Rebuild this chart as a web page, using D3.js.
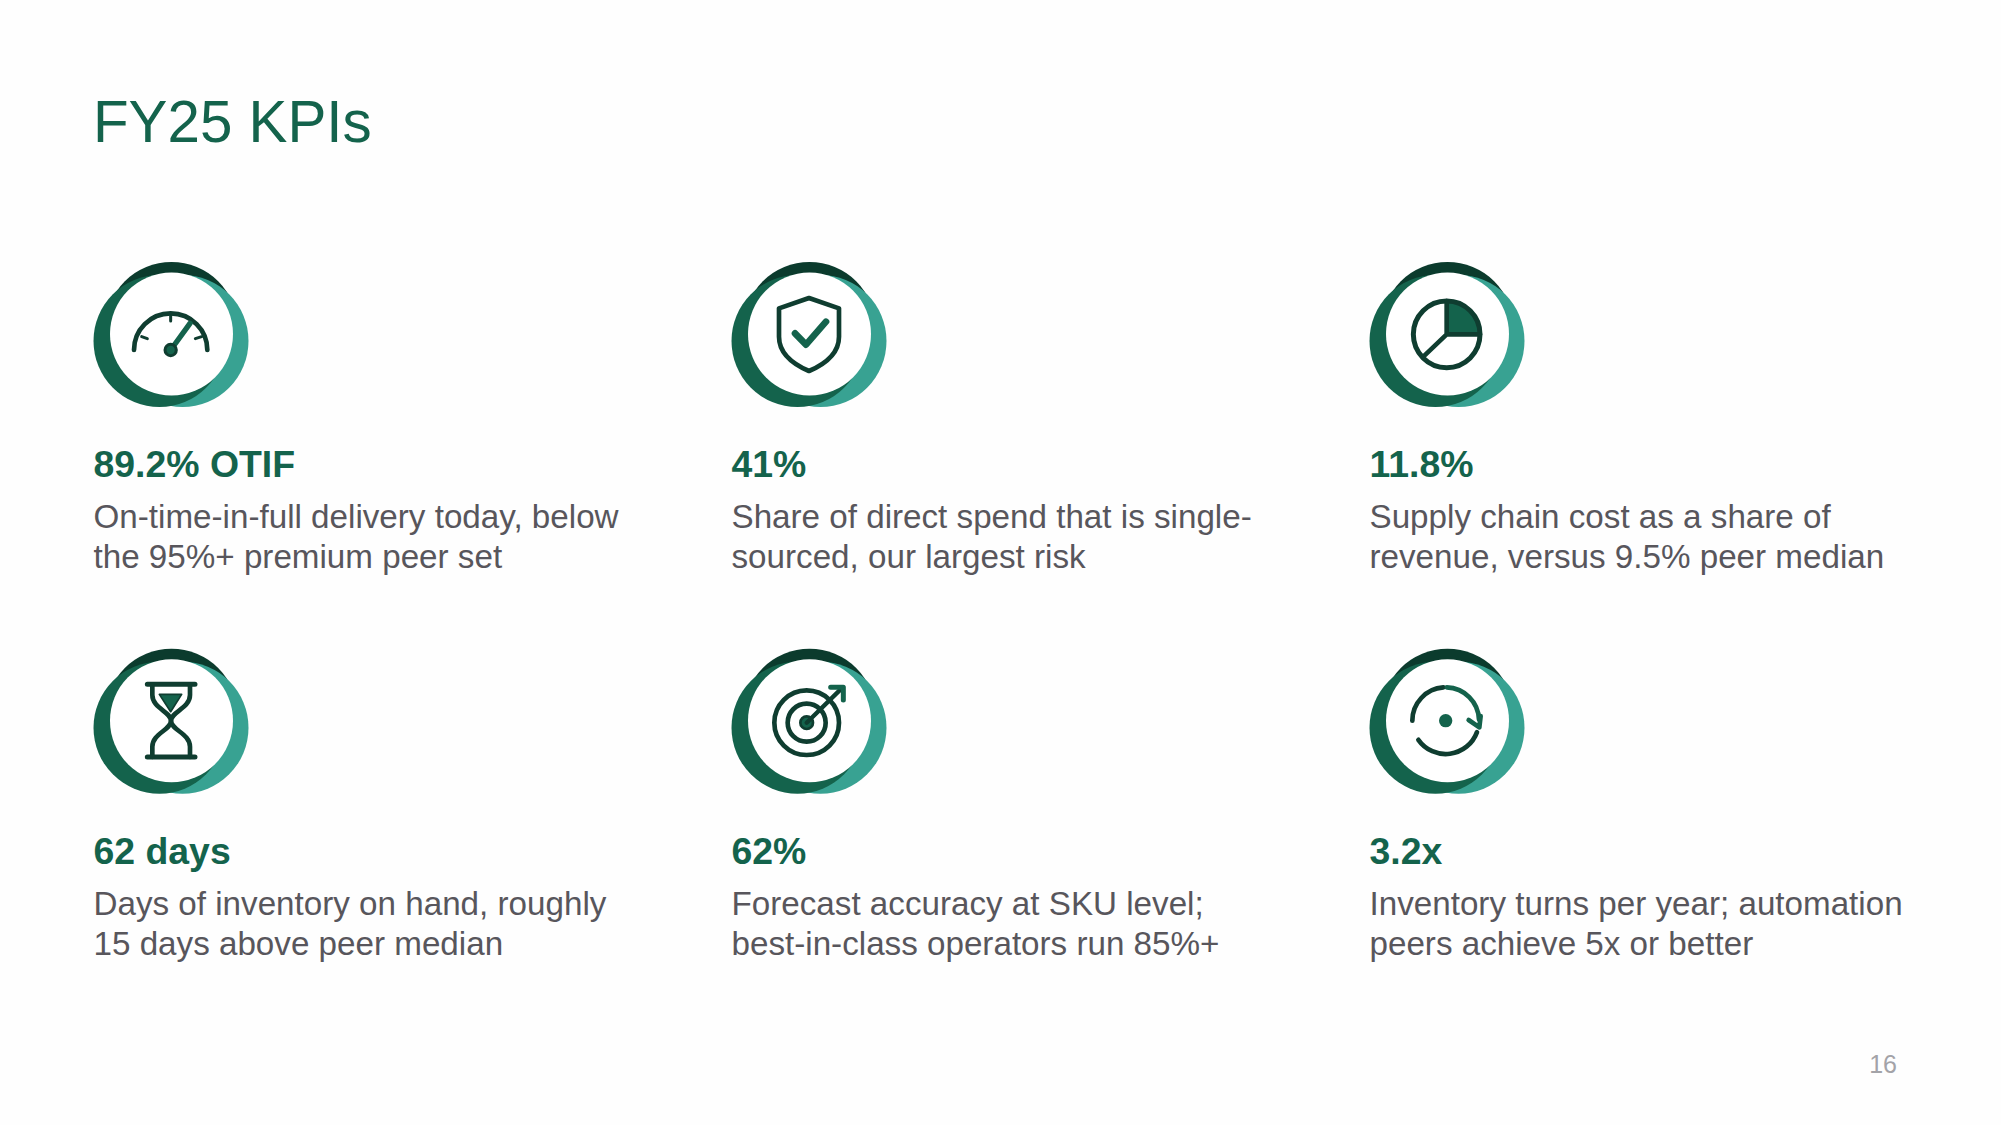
<!DOCTYPE html>
<html><head><meta charset="utf-8">
<script src="https://cdn.jsdelivr.net/npm/d3@7/dist/d3.min.js"></script>
<style>html,body{margin:0;padding:0;background:#fefefe;overflow:hidden}svg{display:block}text{font-family:"Liberation Sans",Arial,sans-serif}</style>
</head><body><svg id="c" width="2001" height="1125"></svg>
<script>
const titleText = "FY25 KPIs";
const pageNumber = "16";
const columns = [0, 1, 2];
const rows = [0, 1];
const headlines = ["89.2% OTIF", "41%", "11.8%", "62 days", "62%", "3.2x"];
const lineOne = ["On-time-in-full delivery today, below", "Share of direct spend that is single-", "Supply chain cost as a share of", "Days of inventory on hand, roughly", "Forecast accuracy at SKU level;", "Inventory turns per year; automation"];
const lineTwo = ["the 95%+ premium peer set", "sourced, our largest risk", "revenue, versus 9.5% peer median", "15 days above peer median", "best-in-class operators run 85%+", "peers achieve 5x or better"];
const iconNames = ["gauge", "shield", "pie", "hourglass", "target", "cycle"];

const INK = "#0f3d30", GREEN = "#14634c", TEAL = "#38a292", DEEP = "#0b3b2d", BODY = "#58565c";
const svg = d3.select("#c");
const x = d3.scaleLinear().domain([0, 2]).range([93.5, 1369.5]);
const y = d3.scaleLinear().domain([0, 1]).range([0, 387.5]);

svg.append("text").attr("x", 93).attr("y", 142).attr("font-size", 58.3).attr("fill", GREEN).text(titleText);
svg.append("text").attr("x", 1897).attr("y", 1072.5).attr("text-anchor", "end").attr("font-size", 25).attr("fill", "#a3a3a8").text(pageNumber);

const stroke = (g, d, col, w, fill) => g.append("path").attr("d", d).attr("fill", fill || "none").attr("stroke", col).attr("stroke-width", w).attr("stroke-linecap", "round").attr("stroke-linejoin", "round");
const ring = (g, cx, cy, r, col, w, fill) => g.append("circle").attr("cx", cx).attr("cy", cy).attr("r", r).attr("fill", fill || "none").attr("stroke", col).attr("stroke-width", w);
const arcPath = (cx, cy, r, a0, a1) => {
  const p = d3.path(); p.arc(cx, cy, r, a0 * Math.PI / 180, a1 * Math.PI / 180); return p.toString();
};

const icons = {
  gauge(g) {
    g.attr("transform", "scale(0.3333) translate(-304.5,-282)");
    stroke(g, arcPath(302, 330, 110, 180, 360), INK, 14);
    stroke(g, "M302 228V243M215 290L232 296M395 290L376 296", INK, 9);
    stroke(g, "M302 330L360 250", GREEN, 16);
    ring(g, 302, 330, 17, INK, 9, GREEN);
  },
  shield(g) {
    g.attr("transform", "scale(0.3333) translate(-268.5,-282)");
    stroke(g, "M267 174L357 205V290C357 335 320 370 267 393C214 370 177 335 177 290V205Z", INK, 14);
    stroke(g, "M225 280L258 314L318 245", GREEN, 20);
  },
  pie(g) {
    g.attr("transform", "scale(0.3333) translate(-262.5,-282)");
    stroke(g, "M260 283V183A100 100 0 0 1 360 283Z", INK, 0, GREEN);
    ring(g, 260, 283, 100, INK, 15);
    stroke(g, "M260 183V283H360M260 283L190 350", INK, 14);
  },
  hourglass(g) {
    g.attr("transform", "scale(0.3333) translate(-304.5,-272)");
    stroke(g, "M232 163H375M232 381H375", INK, 15);
    stroke(g, "M247 163V195C247 235 303 245 303 272C303 300 247 310 247 350V381", INK, 14);
    stroke(g, "M360 163V195C360 235 303 245 303 272C303 300 360 310 360 350V381", INK, 14);
    stroke(g, "M268 193H335L302 245Z", INK, 5, GREEN);
  },
  target(g) {
    g.attr("transform", "scale(0.3333) translate(-268.5,-272)");
    ring(g, 260, 278, 97, INK, 14);
    ring(g, 260, 278, 57, INK, 14);
    ring(g, 260, 278, 19, INK, 8, GREEN);
    stroke(g, "M260 278L368 172", INK, 13);
    stroke(g, "M332 172H370V210", GREEN, 15);
  },
  cycle(g) {
    g.attr("transform", "scale(0.3333) translate(-262.5,-272)");
    stroke(g, arcPath(257, 272, 100, 180, 266), INK, 14);
    stroke(g, arcPath(257, 272, 100, 272, 358), GREEN, 14);
    stroke(g, arcPath(257, 272, 100, 20, 145), INK, 14);
    stroke(g, "M326 270L358 292L362 258", GREEN, 14);
    g.append("circle").attr("cx", 257).attr("cy", 272).attr("r", 20).attr("fill", GREEN);
  }
};

const cells = d3.cross(rows, columns).map(([r, c], i) => ({ r, c, i }));
const card = svg.selectAll("g.card").data(cells).join("g").attr("class", "card")
  .attr("transform", d => `translate(${x(d.c)},${y(d.r)})`);
const badge = card.append("g").attr("transform", d => `translate(0,${386.7 - y(1)})`.replace(/.*/, m => d.r ? m : "translate(0,0)"));

badge.append("circle").attr("cx", 78).attr("cy", 328).attr("r", 66).attr("fill", DEEP);
badge.append("circle").attr("cx", 89).attr("cy", 341).attr("r", 66).attr("fill", TEAL);
badge.append("circle").attr("cx", 66).attr("cy", 341).attr("r", 66).attr("fill", GREEN);
badge.append("circle").attr("cx", 78).attr("cy", 334).attr("r", 61.5).attr("fill", "#ffffff");
badge.append("g").attr("transform", "translate(78,334)").each(function (d) {
  icons[iconNames[d.i]](d3.select(this).append("g"));
});
card.append("text").attr("x", 0).attr("y", 476.7).attr("font-size", 37.4).attr("font-weight", 700).attr("fill", GREEN).text(d => headlines[d.i]);
card.append("text").attr("x", 0).attr("y", 527.5).attr("font-size", 33.2).attr("fill", BODY).text(d => lineOne[d.i]);
card.append("text").attr("x", 0).attr("y", 567.5).attr("font-size", 33.2).attr("fill", BODY).text(d => lineTwo[d.i]);
</script></body></html>
